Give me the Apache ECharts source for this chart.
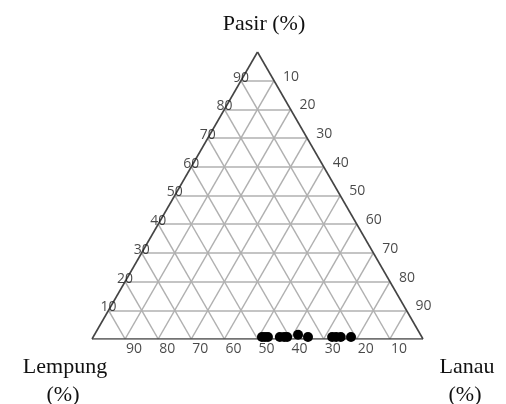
<!DOCTYPE html>
<html>
<head>
<meta charset="utf-8">
<script src="https://cdn.jsdelivr.net/npm/echarts@6/dist/echarts.min.js"></script>
<style>
  html, body { margin: 0; padding: 0; background: #fff; }
  #chart { width: 506px; height: 404px; }
</style>
</head>
<body>
<div id="chart"></div>
<script>
// Soil texture samples (percent): sand, clay, silt
const pasir   = [0.7,  0.7,  0.7,  0.7,  0.7,  0.7,  1.5,  0.7,  0.7,  0.7,  0.7,  0.7];
const lempung = [48.3, 47.4, 46.5, 42.9, 41.6, 40.7, 37.0, 34.4, 27.1, 25.9, 24.5, 21.4];
const lanau   = [51.0, 51.9, 52.8, 56.4, 57.7, 58.6, 61.5, 64.9, 72.2, 73.4, 74.8, 77.9];

// Tick values along each side
const ticks = [10, 20, 30, 40, 50, 60, 70, 80, 90];

const H = Math.sqrt(3) / 2;

// Ternary (sand, clay, silt) -> cartesian; clay vertex at left, silt at right, sand on top
function toXY(p, c, s) {
  const t = p + c + s;
  p /= t; s /= t;
  return [s + p / 2, p * H];
}

// Grid lines for every 10 %
const gridLines = [];
ticks.forEach(function (k) {
  const f = k / 100;
  gridLines.push({ coords: [toXY(f, 1 - f, 0), toXY(f, 0, 1 - f)] });   // constant sand
  gridLines.push({ coords: [toXY(0, 1 - f, f), toXY(1 - f, 0, f)] });   // constant silt
  gridLines.push({ coords: [toXY(0, f, 1 - f), toXY(1 - f, f, 0)] });   // constant clay
});

const frame = [
  { coords: [toXY(0, 1, 0), toXY(0, 0, 1)] },
  { coords: [toXY(0, 0, 1), toXY(1, 0, 0)] },
  { coords: [toXY(1, 0, 0), toXY(0, 1, 0)] }
];

// Tick labels on each side
const leftLabels = ticks.map(function (k) {
  const f = k / 100;
  return toXY(f, 1 - f, 0).concat([String(k)]);
});
const rightLabels = ticks.map(function (k) {
  const f = k / 100;
  return toXY(1 - f, 0, f).concat([String(k)]);
});
const bottomLabels = ticks.map(function (k) {
  const f = k / 100;
  return toXY(0, f, 1 - f).concat([String(k)]);
});

const samples = pasir.map(function (p, i) {
  return toXY(p, lempung[i], lanau[i]);
});

const tickFont = {
  show: true,
  position: 'inside',
  fontFamily: 'Open Sans',
  fontSize: 14,
  color: '#1a1a1a',
  formatter: function (d) { return d.value[2]; }
};

function labelSeries(data, offset) {
  return {
    type: 'scatter',
    data: data,
    symbolSize: 0,
    silent: true,
    z: 5,
    label: Object.assign({}, tickFont, { offset: offset })
  };
}

function title(text, x, y) {
  return {
    type: 'text',
    x: x,
    y: y,
    silent: true,
    style: {
      text: text,
      textAlign: 'center',
      textVerticalAlign: 'middle',
      font: '22px "Liberation Serif"',
      fill: '#111111'
    }
  };
}

const chart = echarts.init(document.getElementById('chart'), null, { renderer: 'canvas' });

chart.setOption({
  animation: false,
  backgroundColor: '#ffffff',
  grid: { left: 92, top: 52, width: 331, height: 287 },
  xAxis: { type: 'value', min: 0, max: 1, show: false },
  yAxis: { type: 'value', min: 0, max: H, show: false },
  graphic: [
    title('Pasir (%)', 264, 24),
    title('Lempung', 65, 367),
    title('(%)', 63, 395),
    title('Lanau', 467, 367),
    title('(%)', 465, 395)
  ],
  series: [
    {
      type: 'lines',
      coordinateSystem: 'cartesian2d',
      silent: true,
      z: 1,
      lineStyle: { color: '#b0b0b0', width: 1.5, opacity: 1 },
      data: gridLines
    },
    {
      type: 'lines',
      coordinateSystem: 'cartesian2d',
      silent: true,
      z: 2,
      lineStyle: { color: '#444444', width: 1.6, opacity: 1 },
      data: frame
    },
    labelSeries(leftLabels, [0, -3]),
    labelSeries(rightLabels, [17, -4]),
    labelSeries(bottomLabels, [9, 10]),
    {
      type: 'scatter',
      data: samples,
      symbol: 'circle',
      symbolSize: 10,
      z: 10,
      itemStyle: { color: '#000000', opacity: 1 }
    }
  ]
});
</script>
</body>
</html>
